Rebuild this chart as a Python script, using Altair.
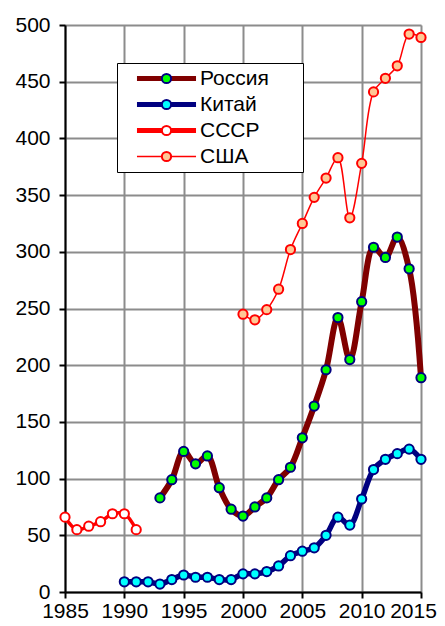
import altair as alt
import pandas as pd

series_names = ["Россия", "Китай", "СССР", "США"]
series_codes = ["r", "c", "u", "a"]

russia_years = list(range(1993, 2016))
russia_vals = [83, 99, 124, 113, 120, 92, 73, 67, 75, 83, 99, 110, 136, 164, 196,
               242, 205, 256, 304, 295, 313, 285, 189]

china_years = list(range(1990, 2016))
china_vals = [9, 9, 9, 7, 11, 15, 13, 13, 11, 11, 16, 16, 18, 23, 32, 36, 39, 50,
              66, 59, 82, 108, 117, 122, 126, 117]

ussr_years = list(range(1985, 1992))
ussr_vals = [66, 55, 58, 62, 69, 69, 55]

usa_years = list(range(2000, 2016))
usa_vals = [245, 240, 249, 267, 302, 325, 348, 365, 383, 330, 378, 441, 453, 464, 492, 489]

x_ticks = [1985, 1990, 1995, 2000, 2005, 2010, 2015]
y_ticks = list(range(0, 501, 50))

line_colors = ["#800000", "#000080", "#ff0000", "#ff0000"]
line_widths = [6, 5.5, 3.5, 1.5]
fill_colors = ["#00ff00", "#00ffff", "#ffffff", "#ffc896"]
edge_colors = ["#000080", "#000080", "#ff0000", "#ff0000"]

rows = []
for idx, (ys, vs) in enumerate(zip([russia_years, china_years, ussr_years, usa_years],
                                   [russia_vals, china_vals, ussr_vals, usa_vals])):
    for y, v in zip(ys, vs):
        rows.append({"year": y, "value": v, "series": series_names[idx],
                     "code": series_codes[idx], "edge": edge_colors[idx],
                     "lw": line_widths[idx]})
df = pd.DataFrame(rows)

FONT = "Liberation Sans"

x_enc = alt.X("year:Q", scale=alt.Scale(domain=[1985, 2015], nice=False, zero=False),
              axis=alt.Axis(values=x_ticks, format="d",
                            title=None, labelFontSize=21, labelFont=FONT, labelColor="black",
                            domainColor="black", domainWidth=2, tickColor="black",
                            tickWidth=2, tickSize=6, labelPadding=19,
                            labelBaseline="alphabetic", gridColor="#8c8c8c",
                            gridWidth=2, labelFlush=False, labelOverlap=False,
                            labelOffset={"condition": {"test": "datum.value == 2015", "value": -8},
                                         "value": 0}))
y_enc = alt.Y("value:Q", scale=alt.Scale(domain=[0, 500], nice=False),
              axis=alt.Axis(values=y_ticks, title=None, labelFontSize=21,
                            labelFont=FONT, labelColor="black", domainColor="black",
                            domainWidth=2, tickColor="black", tickWidth=2, tickSize=6,
                            labelPadding=9, gridColor="#8c8c8c", gridWidth=2))

LEG_X = 52
LEG_Y = 38
PAD = 5
ROWPAD = 4

line_legend = alt.Legend(
    title="00", titleOrient="right", titleFontSize=21, titleFont=FONT,
    titleColor="rgba(0,0,0,0)", titlePadding=5,
    orient="none", legendX=LEG_X, legendY=LEG_Y, padding=PAD,
    rowPadding=ROWPAD, labelFontSize=21, labelFont=FONT, labelColor="black",
    labelOffset=23, symbolOffset=34, symbolSize=256,
    symbolType="M-3.69,0H3.69",
    symbolStrokeWidth={"expr": "datum.value === 'США' ? 1.5 : 5"},
    strokeColor="black", fillColor="white", zindex=1,
)

lines = alt.Chart(df).mark_line(interpolate="catmull-rom").encode(
    x=x_enc,
    y=y_enc,
    detail="series:N",
    stroke=alt.Stroke("series:N", scale=alt.Scale(domain=series_names, range=line_colors),
                      legend=line_legend),
    strokeWidth=alt.StrokeWidth("lw:Q", scale=None),
)

edge_expr = "indexof(['r', 'c'], datum.value) >= 0 ? '#000080' : '#ff0000'"

point_legend = alt.Legend(
    title=None, orient="none", legendX=LEG_X, legendY=LEG_Y, padding=PAD,
    rowPadding=ROWPAD, labelFontSize=21, labelFont=FONT, labelOpacity=0,
    labelExpr="''",
    labelOffset=23, symbolOffset=34, symbolType="circle", symbolSize=85,
    symbolStrokeWidth=2, symbolOpacity=1, symbolStrokeColor={"expr": edge_expr},
    zindex=2,
)

points = alt.Chart(df).mark_point(filled=True, shape="circle", size=85, strokeWidth=2,
                                  opacity=1).encode(
    x=x_enc,
    y=y_enc,
    fill=alt.Fill("code:N", scale=alt.Scale(domain=series_codes, range=fill_colors),
                  legend=point_legend),
    stroke=alt.Stroke("edge:N", scale=None),
)

chart = alt.layer(lines, points).resolve_scale(stroke="independent").properties(
    width=356, height=567,
    autosize=alt.AutoSizeParams(type="none"),
    padding={"left": 57, "top": 17, "right": 16, "bottom": 26},
).configure_view(stroke=None).configure(font=FONT)

chart.save("out.html", embed_options={"renderer": "svg", "actions": False})
